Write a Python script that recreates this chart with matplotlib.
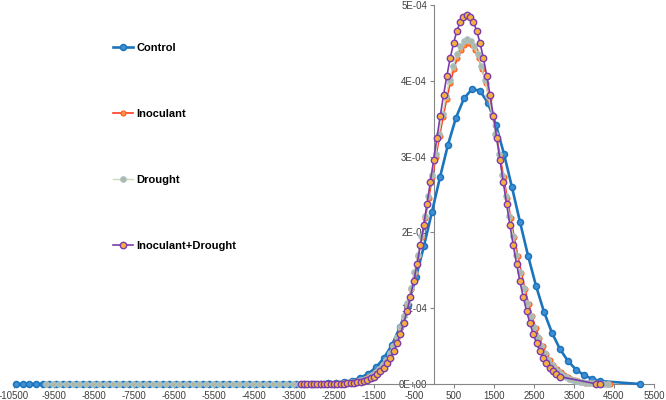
import numpy as np
import matplotlib
matplotlib.use('Agg')
import matplotlib.pyplot as plt
from matplotlib.ticker import FuncFormatter, MultipleLocator

matplotlib.rcParams['font.family'] = ['Liberation Sans', 'DejaVu Sans']
matplotlib.rcParams['axes.unicode_minus'] = False

# values, y in units of 1E-04
ctrl_x = [-10450, -10283, -10117, -9950, -9783, -9617, -9450, -9283, -9117, -8950,
          -8783, -8617, -8450, -8283, -8117, -7950, -7783, -7617, -7450, -7283,
          -7117, -6950, -6783, -6617, -6450, -6283, -6117, -5950, -5783, -5617,
          -5450, -5283, -5117, -4950, -4783, -4617, -4450, -4283, -4117, -3950,
          -3783, -3617, -3450,
          -3250, -3050, -2850, -2650, -2450, -2250, -2050, -1850, -1650, -1450,
          -1250, -1050, -850, -650, -450, -250, -50, 150, 350, 550, 750, 950,
          1150, 1350, 1550, 1750, 1950, 2150, 2350, 2550, 2750, 2950, 3150, 3350,
          3550, 3750, 3950, 4150, 5150]
ctrl_y = [0, 0, 0, 0, 0, 0, 0, 0, 0, 0,
          0, 0, 0, 0, 0, 0, 0, 0, 0, 0,
          0, 0, 0, 0, 0, 0, 0, 0, 0, 0,
          0, 0, 0, 0, 0, 0, 0, 0, 0, 0,
          0, 0, 0,
          0.001, 0.002, 0.003, 0.007, 0.013, 0.025, 0.046, 0.080, 0.135, 0.220,
          0.344, 0.517, 0.750, 1.048, 1.409, 1.824, 2.273, 2.729, 3.157, 3.514, 3.767, 3.891,
          3.869, 3.705, 3.416, 3.034, 2.594, 2.137, 1.695, 1.295, 0.951, 0.674, 0.460, 0.302,
          0.191, 0.116, 0.068, 0.039, 0.0]

inoc_x = [-2888, -2799, -2710, -2621, -2532, -2443, -2354, -2265, -2176, -2087,
          -1998, -1909, -1820, -1731, -1642, -1553, -1464, -1375, -1286, -1197,
          -1108, -1019, -930, -841, -752, -663, -574, -485, -396, -307, -218, -129,
          -40, 49, 138, 227, 316, 405, 494, 583, 672, 761, 850,
          939, 1028, 1117, 1206, 1295, 1384, 1473, 1562, 1651, 1740, 1829, 1918,
          2007, 2096, 2185, 2274, 2363, 2452, 2541, 2630, 2719, 2808, 2897, 2986,
          3075, 3164, 3253, 3342, 3431, 3520, 3609, 3698, 3787, 3876, 3965, 4054,
          4143, 4232, 4321, 4410]
inoc_y = [0.0007, 0.001, 0.0015, 0.002, 0.003, 0.005, 0.007, 0.010, 0.014, 0.019,
          0.027, 0.037, 0.050, 0.067, 0.089, 0.118, 0.153, 0.198, 0.253, 0.320,
          0.400, 0.496, 0.609, 0.740, 0.891, 1.061, 1.251, 1.461, 1.689, 1.933,
          2.190, 2.457, 2.729, 3.001, 3.268, 3.522, 3.759, 3.971, 4.154, 4.302,
          4.411, 4.478, 4.500,
          4.478, 4.411, 4.302, 4.154, 3.971, 3.759, 3.522, 3.268, 3.001, 2.729,
          2.457, 2.190, 1.933, 1.689, 1.461, 1.251, 1.061, 0.891, 0.740, 0.609,
          0.496, 0.400, 0.320, 0.253, 0.198, 0.153, 0.118, 0.089, 0.067, 0.050,
          0.037, 0.027, 0.019, 0.014, 0.010, 0.007, 0.005, 0.003, 0.002, 0.0015]

drou_x = [-9700, -9533, -9367, -9200, -9033, -8867, -8700, -8533, -8367, -8200,
          -8033, -7867, -7700, -7533, -7367, -7200, -7033, -6867, -6700, -6533,
          -6367, -6200, -6033, -5867, -5700, -5533, -5367, -5200, -5033, -4867,
          -4700, -4533, -4367, -4200, -4033, -3867, -3700, -3533, -3367,
          -3130, -3042, -2954, -2866, -2778, -2690, -2602, -2514, -2426, -2338,
          -2250, -2162, -2074, -1986, -1898, -1810, -1722, -1634, -1546, -1458,
          -1370, -1282, -1194, -1106, -1018, -930, -842, -754, -666, -578,
          -490, -402, -314, -226, -138, -50, 38, 126, 214, 302, 390, 478, 566,
          654, 742, 830,
          918, 1006, 1094, 1182, 1270, 1358, 1446, 1534, 1622, 1710, 1798, 1886,
          1974, 2062, 2150, 2238, 2326, 2414, 2502, 2590, 2678, 2766, 2854, 2942,
          3030, 3118, 3206, 3294, 3382, 3470, 3558, 3646, 3734, 3822, 3910, 3998,
          4086, 4174, 4262, 4350]
drou_y = [0, 0, 0, 0, 0, 0, 0, 0, 0, 0,
          0, 0, 0, 0, 0, 0, 0, 0, 0, 0,
          0, 0, 0, 0, 0, 0, 0, 0, 0, 0,
          0, 0, 0, 0, 0, 0, 0, 0, 0,
          0, 0, 0, 0.001, 0.001, 0.0015, 0.002, 0.003, 0.005, 0.007,
          0.010, 0.014, 0.020, 0.027, 0.037, 0.051, 0.068, 0.090, 0.119, 0.155,
          0.200, 0.255, 0.323, 0.405, 0.502, 0.616, 0.748, 0.900, 1.073, 1.265,
          1.477, 1.708, 1.955, 2.215, 2.485, 2.760, 3.035, 3.304, 3.561, 3.800,
          4.015, 4.200, 4.350, 4.460, 4.527, 4.550,
          4.527, 4.460, 4.350, 4.200, 4.015, 3.800, 3.561, 3.304, 3.035, 2.760,
          2.485, 2.215, 1.955, 1.708, 1.477, 1.265, 1.073, 0.900, 0.748, 0.616,
          0.502, 0.405, 0.323, 0.255, 0.200, 0.155, 0.119, 0.090, 0.068, 0.051,
          0.037, 0.027, 0.020, 0.014, 0.010, 0.007, 0.005, 0.003, 0.002, 0.0015]

indr_x = [-3330, -3247, -3164, -3081, -2998, -2915, -2832, -2749, -2666, -2583,
          -2500, -2417, -2334, -2251, -2168, -2085, -2002, -1919, -1836, -1753,
          -1670, -1587, -1504, -1421, -1338, -1255, -1172, -1089, -1006, -923,
          -840, -757, -674, -591, -508, -425, -342, -259, -176, -93, -10, 73,
          156, 239, 322, 405, 488, 571, 654, 737, 820,
          903, 986, 1069, 1152, 1235, 1318, 1401, 1484, 1567, 1650, 1733, 1816,
          1899, 1982, 2065, 2148, 2231, 2314, 2397, 2480, 2563, 2646, 2729, 2812,
          2895, 2978, 3061, 3144, 4057, 4140]
indr_y = [0, 0, 0, 0, 0, 0, 0, 0, 0,
          0.001, 0.002, 0.002, 0.004, 0.005, 0.008, 0.011, 0.015, 0.021, 0.029,
          0.040, 0.054, 0.073, 0.097, 0.127, 0.166, 0.214, 0.273, 0.346, 0.433,
          0.537, 0.659, 0.801, 0.964, 1.148, 1.354, 1.581, 1.828, 2.092, 2.370,
          2.659, 2.954, 3.248, 3.536, 3.812, 4.068, 4.298, 4.496, 4.656, 4.774,
          4.846, 4.870,
          4.846, 4.774, 4.656, 4.496, 4.298, 4.068, 3.812, 3.536, 3.248, 2.954,
          2.659, 2.370, 2.092, 1.828, 1.581, 1.354, 1.148, 0.964, 0.801, 0.659,
          0.537, 0.433, 0.346, 0.273, 0.214, 0.166, 0.127, 0.097, 0.002, 0.002]

x_ticks = list(range(-10500, 5501, 1000))

fig = plt.figure(figsize=(6.66, 4.0), dpi=100)
ax = fig.add_axes([0.021, 0.04, 0.961, 0.9475])

ax.plot(ctrl_x, np.array(ctrl_y) * 1e-4, color='#1C75BC', lw=1.9, marker='o', ms=4.3,
        mfc='#3E8FD4', mec='#1C75BC', mew=1.1, label='Control', clip_on=False, zorder=3)
ax.plot(inoc_x, np.array(inoc_y) * 1e-4, color='#FF3B1F', lw=1.2, marker='o', ms=3.6,
        mfc='#F79646', mec='#FF5A1F', mew=0.8, label='Inoculant', clip_on=False, zorder=4)
ax.plot(drou_x, np.array(drou_y) * 1e-4, color='#C9DDB3', lw=1.0, marker='o', ms=4,
        mfc='#AEB8A6', mec='#A9C2C8', mew=0.8, label='Drought', clip_on=False, zorder=5)
ax.plot(indr_x, np.array(indr_y) * 1e-4, color='#7A3DAA', lw=1.2, marker='o', ms=4.6,
        mfc='#F5B041', mec='#7A3DAA', mew=1.0, label='Inoculant+Drought', clip_on=False, zorder=6)

ax.set_xlim(-10500, 5500)
ax.set_ylim(0, 5e-4)
ax.set_xticks(x_ticks)
ax.xaxis.set_major_formatter(FuncFormatter(lambda v, p: str(int(v))))
ax.yaxis.set_major_locator(MultipleLocator(1e-4))
ax.yaxis.set_major_formatter(FuncFormatter(lambda v, p: f'{v:.0E}'))

for s in ['top', 'right']:
    ax.spines[s].set_visible(False)
ax.spines['left'].set_position(('data', 0))
ax.spines['left'].set_color('#868686')
ax.spines['bottom'].set_color('#868686')
ax.tick_params(axis='both', labelsize=7, colors='#404040', length=3, width=0.8,
               color='#868686', pad=2)

leg = ax.legend(loc='upper left', bbox_to_anchor=(0.17, 0.893), bbox_transform=fig.transFigure,
                frameon=False, labelspacing=5.05, handlelength=1.8, handletextpad=0.3,
                borderpad=0, borderaxespad=0, prop={'weight': 'bold', 'size': 8})

fig.savefig('out.png', dpi=100)
